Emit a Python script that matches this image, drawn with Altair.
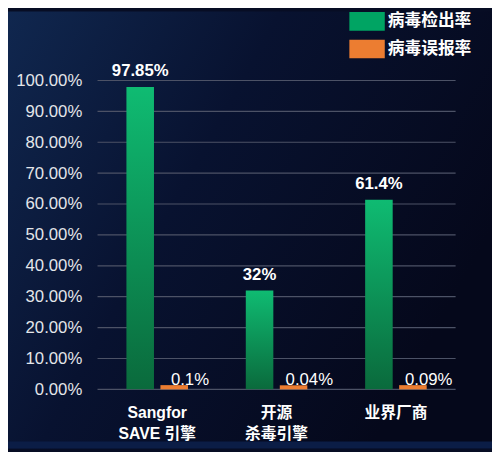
import altair as alt
import pandas as pd

categories = ["Sangfor\nSAVE 引擎", "开源\n杀毒引擎", "业界厂商"]
series_names = ["病毒检出率", "病毒误报率"]
detection_rate = [97.85, 32, 61.4]
false_positive_rate = [0.1, 0.04, 0.09]
y_ticks = [0, 10, 20, 30, 40, 50, 60, 70, 80, 90, 100]

rows = []
for c, d, f in zip(categories, detection_rate, false_positive_rate):
    rows.append({"cat": c, "series": series_names[0], "value": d, "label": f"{d:g}%"})
    rows.append({"cat": c, "series": series_names[1], "value": f, "label": f"{f:g}%"})
df = pd.DataFrame(rows)
grid_df = pd.DataFrame({"tick": y_ticks})

GREEN = "#00a463"
ORANGE = "#ec7d31"
CJK = "Liberation Sans, Arial, Noto Sans CJK SC, sans-serif"
NARROW = "Liberation Sans Narrow, Arial Narrow, Liberation Sans, sans-serif"

W, H = 364, 314
PL, PT, PR, PB = 91, 70, 37, 60

x_enc = alt.X("cat:N", sort=categories,
              scale=alt.Scale(paddingInner=0, paddingOuter=0),
              axis=alt.Axis(title=None, labelAngle=0, ticks=False, domain=False,
                            grid=False, zindex=1, labelFont=CJK, labelFontSize=16,
                            labelFontWeight="bold", labelColor="#ffffff",
                            labelExpr="split(datum.label, '\\n')",
                            labelLineHeight=21, labelBaseline="middle",
                            labelPadding=24))
xoff = alt.XOffset("series:N", sort=series_names,
                   scale=alt.Scale(domain=series_names, paddingInner=0.19, paddingOuter=0.85))
yscale = alt.Scale(domain=[0, 100], nice=False)
y_axis = alt.Axis(title=None, values=y_ticks, ticks=False, domain=False,
                  grid=False, zindex=1, labelOverlap=False,
                  labelExpr="format(datum.value, '.2f') + '%'",
                  labelFont=NARROW, labelFontSize=17,
                  labelColor="#e4e6ea", labelPadding=16)
y_enc = alt.Y("value:Q", scale=yscale, axis=y_axis)

bg = alt.Chart(alt.Data(values=[{}])).mark_rect(
    fill=alt.Gradient(gradient="linear", x1=0, y1=0, x2=1, y2=0.5,
                      stops=[alt.GradientStop(color="#10274f", offset=0),
                             alt.GradientStop(color="#081230", offset=0.45),
                             alt.GradientStop(color="#05081b", offset=1)])
).encode(x=alt.value(-PL), x2=alt.value(W + PR), y=alt.value(-PT), y2=alt.value(H + PB))

bottom_strip = alt.Chart(alt.Data(values=[{}])).mark_rect(color="#0b1d46").encode(
    x=alt.value(-PL), x2=alt.value(W + PR), y=alt.value(H + PB - 7), y2=alt.value(H + PB))

grid = alt.Chart(grid_df).mark_rule(color="#4c5266", strokeWidth=1.2).encode(
    y=alt.Y("tick:Q", scale=yscale, axis=y_axis), x=alt.value(0), x2=alt.value(W))

orange_bars = alt.Chart(df).transform_filter(alt.datum.series == series_names[1]).mark_bar(
    yOffset=-4
).encode(
    x=x_enc, xOffset=xoff, y=y_enc, y2=alt.value(H),
    color=alt.Color("series:N", sort=series_names,
                    scale=alt.Scale(domain=series_names, range=[GREEN, ORANGE]),
                    legend=alt.Legend(title=None, orient="none", legendX=256, legendY=-78,
                                      symbolType="M-1,-0.528H1V0.528H-1Z", symbolSize=1296,
                                      symbolStrokeWidth=0, symbolOpacity=1,
                                      labelFont=CJK, labelFontSize=17, labelFontWeight="bold",
                                      labelColor="#ffffff", labelOffset=3, rowPadding=-1,
                                      padding=0)),
)

green_bars = alt.Chart(df).transform_filter(alt.datum.series == series_names[0]).mark_bar(
    fill=alt.Gradient(gradient="linear", x1=0, y1=0, x2=0, y2=1,
                      stops=[alt.GradientStop(color="#0fbb72", offset=0),
                             alt.GradientStop(color="#0a6a3c", offset=1)])
).encode(x=x_enc, xOffset=xoff, y=y_enc)

green_labels = alt.Chart(df).transform_filter(alt.datum.series == series_names[0]).mark_text(
    font=CJK, fontSize=17, fontWeight="bold", color="#ffffff", baseline="alphabetic", dy=-11
).encode(x=x_enc, xOffset=xoff, y=y_enc, text="label:N")

orange_labels = alt.Chart(df).transform_filter(alt.datum.series == series_names[1]).mark_text(
    font=CJK, fontSize=17, fontWeight=500, color="#ffffff", baseline="alphabetic", dx=16, dy=-4
).encode(x=x_enc, xOffset=xoff, y=y_enc, text="label:N")

chart = alt.layer(bg, bottom_strip, grid, orange_bars, green_bars, green_labels, orange_labels).properties(
    width=W, height=H,
    autosize=alt.AutoSizeParams(type="none"),
    padding={"left": PL, "top": PT, "right": PR, "bottom": PB},
    background="#070d24",
).configure_view(stroke=None)

chart.save("out.html", embed_options={"renderer": "svg", "actions": False})
